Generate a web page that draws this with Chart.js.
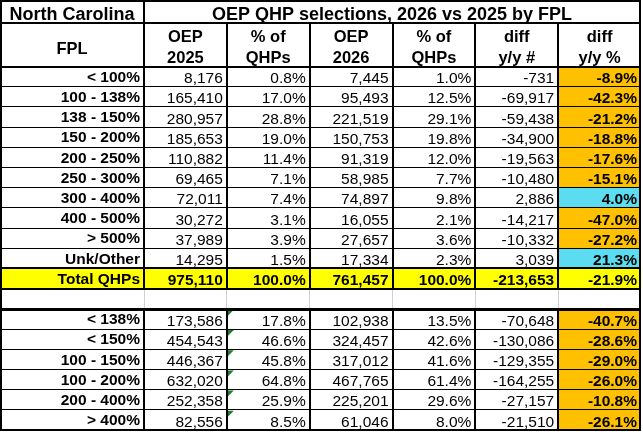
<!DOCTYPE html>
<html>
<head>
<meta charset="utf-8">
<script src="https://cdn.jsdelivr.net/npm/chart.js@4.4.1/dist/chart.umd.min.js"></script>
<style>
html,body{margin:0;padding:0;background:#fff;overflow:hidden}
#wrap{width:643px;height:432px;position:relative}
</style>
</head>
<body>
<div id="wrap"><canvas id="c"></canvas></div>
<script>
// ---------- data ----------
const stateName = 'North Carolina';
const tableTitle = 'OEP QHP selections, 2026 vs 2025 by FPL';
const fplHeader = 'FPL';
const columnHeaders = [['OEP','2025'],['% of','QHPs'],['OEP','2026'],['% of','QHPs'],['diff','y/y #'],['diff','y/y %']];
const fplLabels = ['< 100%','100 - 138%','138 - 150%','150 - 200%','200 - 250%','250 - 300%','300 - 400%','400 - 500%','> 500%','Unk/Other','Total QHPs','',
  '< 138%','< 150%','100 - 150%','100 - 200%','200 - 400%','> 400%'];
const oep2025 = [8176,165410,280957,185653,110882,69465,72011,30272,37989,14295,975110,null,173586,454543,446367,632020,252358,82556];
const pct2025 = [0.8,17.0,28.8,19.0,11.4,7.1,7.4,3.1,3.9,1.5,100.0,null,17.8,46.6,45.8,64.8,25.9,8.5];
const oep2026 = [7445,95493,221519,150753,91319,58985,74897,16055,27657,17334,761457,null,102938,324457,317012,467765,225201,61046];
const pct2026 = [1.0,12.5,29.1,19.8,12.0,7.7,9.8,2.1,3.6,2.3,100.0,null,13.5,42.6,41.6,61.4,29.6,8.0];
const diffNum = [-731,-69917,-59438,-34900,-19563,-10480,2886,-14217,-10332,3039,-213653,null,-70648,-130086,-129355,-164255,-27157,-21510];
const diffPct = [-8.9,-42.3,-21.2,-18.8,-17.6,-15.1,4.0,-47.0,-27.2,21.3,-21.9,null,-40.7,-28.6,-29.0,-26.0,-10.8,-26.1];
const totalRowIndex = 10;
const blankRowIndex = 11;

// ---------- layout / style ----------
const FAMILY = '"Liberation Sans", Arial, Helvetica, sans-serif';
const TITLE_H = 22.5, HEADER_H = 44, FPL_W = 144, RIGHT_PAD = 2, BOTTOM_PAD = 2;
const BODY_SIZE = 15.5;
const ORANGE = '#FFC000', CYAN = '#5CDCF0', YELLOW = '#FFFF00', FLAG_GREEN = '#1E7B32';

const valueColumns = [oep2025, pct2025, oep2026, pct2026, diffNum, diffPct];
const fmtNum = v => v.toLocaleString('en-US');
const fmtPct = v => v.toFixed(1) + '%';
const formatters = [fmtNum, fmtPct, fmtNum, fmtPct, fmtNum, fmtPct];
const nCols = valueColumns.length;
const colUnitPx = (643 - RIGHT_PAD - FPL_W) / nCols;
const fplUnits = FPL_W / colUnitPx;

const totalFill = fplLabels.map((_, i) => i === totalRowIndex ? [-fplUnits, nCols] : null);
const diffFill = diffPct.map((v, i) => (v === null || i === totalRowIndex) ? null : [nCols - 1, nCols]);
const diffColors = diffPct.map(v => v !== null && v < 0 ? ORANGE : CYAN);

Chart.defaults.color = '#000';
Chart.defaults.font.family = FAMILY;

const tablePlugin = {
  id: 'tableGrid',
  afterDatasetsDraw(chart) {
    const {ctx, chartArea: ca} = chart;
    const x = chart.scales.x, y = chart.scales.y;
    const half = (y.getPixelForValue(1) - y.getPixelForValue(0)) / 2;
    const top = i => y.getPixelForValue(i) - half;
    const bot = i => y.getPixelForValue(i) + half;
    const cx = c => x.getPixelForValue(c);
    const nRows = fplLabels.length;
    const tableBottom = bot(nRows - 1);
    const rightEdge = ca.right - 1;

    const crisp = (v, w) => (w % 2 === 1) ? Math.round(v - 0.5) + 0.5 : Math.round(v);
    function hLine(x0, x1, yy, w, col) {
      ctx.beginPath(); ctx.strokeStyle = col || '#000'; ctx.lineWidth = w;
      const p = crisp(yy, w); ctx.moveTo(x0, p); ctx.lineTo(x1, p); ctx.stroke();
    }
    function vLine(xx, y0, y1, w, col) {
      ctx.beginPath(); ctx.strokeStyle = col || '#000'; ctx.lineWidth = w;
      const p = crisp(xx, w); ctx.moveTo(p, y0); ctx.lineTo(p, y1); ctx.stroke();
    }
    ctx.save();
    // green error flags (bottom section, % of QHPs 2025 column)
    ctx.fillStyle = FLAG_GREEN;
    for (let r = blankRowIndex + 1; r < nRows; r++) {
      const x0 = cx(1) + 1, y0 = top(r) + 1;
      ctx.beginPath(); ctx.moveTo(x0, y0); ctx.lineTo(x0 + 6, y0); ctx.lineTo(x0, y0 + 6); ctx.closePath(); ctx.fill();
    }
    // blank row light grid
    for (let c = 0; c < nCols; c++) vLine(cx(c), top(blankRowIndex), bot(blankRowIndex), 1, '#D0D0D0');
    // horizontal row lines
    for (let i = 0; i < nRows - 1; i++) {
      if (i === blankRowIndex - 1 || i === blankRowIndex) continue;
      hLine(0, rightEdge, bot(i), 1);
    }
    hLine(0, rightEdge, top(totalRowIndex), 2);
    hLine(0, rightEdge, bot(totalRowIndex), 2);
    hLine(0, rightEdge, bot(blankRowIndex) + 0.5, 3);
    // header lines
    hLine(0, rightEdge + 1, TITLE_H, 2);
    hLine(0, rightEdge + 1, ca.top, 2);
    // vertical column lines
    vLine(cx(0), 0, top(blankRowIndex), 2);
    vLine(cx(0), bot(blankRowIndex), tableBottom, 2);
    for (let c = 1; c < nCols; c++) {
      vLine(cx(c), TITLE_H, top(blankRowIndex), 2);
      vLine(cx(c), bot(blankRowIndex), tableBottom, 2);
    }
    // outer border
    vLine(1, 0, tableBottom + 1, 2);
    vLine(rightEdge, 0, tableBottom + 1, 2);
    hLine(0, rightEdge + 1, 1, 2);
    hLine(0, rightEdge + 1, tableBottom, 2);

    // cell values
    ctx.fillStyle = '#000';
    ctx.textAlign = 'right';
    ctx.textBaseline = 'alphabetic';
    for (let r = 0; r < nRows; r++) {
      for (let c = 0; c < nCols; c++) {
        const v = valueColumns[c][r];
        if (v === null || v === undefined) continue;
        const bold = r === totalRowIndex || c === nCols - 1;
        ctx.font = (bold ? 'bold ' : '') + BODY_SIZE + 'px ' + FAMILY;
        ctx.fillText(formatters[c](v), cx(c + 1) - 4, bot(r) - 3.5);
      }
    }
    // titles
    ctx.textAlign = 'center';
    ctx.font = 'bold 18px ' + FAMILY;
    ctx.fillText(stateName, ca.left / 2, 20);
    ctx.fillText(tableTitle, (ca.left + rightEdge) / 2, 20);
    ctx.font = 'bold 16.5px ' + FAMILY;
    ctx.fillText(fplHeader, ca.left / 2, 54);
    ctx.restore();
  }
};

function noPad(s) { s.paddingTop = 0; s.paddingBottom = 0; s.paddingLeft = 0; s.paddingRight = 0; }

new Chart(document.getElementById('c'), {
  type: 'bar',
  data: {
    labels: fplLabels,
    datasets: [
      { label: 'Total row', data: totalFill, backgroundColor: YELLOW, borderWidth: 0, clip: false,
        barPercentage: 1, categoryPercentage: 1, grouped: false },
      { label: 'diff y/y %', data: diffFill, backgroundColor: diffColors, borderWidth: 0,
        barPercentage: 1, categoryPercentage: 1, grouped: false }
    ]
  },
  options: {
    indexAxis: 'y',
    responsive: true,
    maintainAspectRatio: false,
    animation: false,
    events: [],
    layout: { padding: { top: TITLE_H, left: 0, right: RIGHT_PAD, bottom: BOTTOM_PAD } },
    plugins: { legend: { display: false }, tooltip: { enabled: false }, title: { display: false } },
    scales: {
      x: { type: 'linear', min: 0, max: nCols, display: false },
      x2: {
        type: 'category', labels: columnHeaders, position: 'top', offset: true,
        grid: { display: false, drawTicks: false }, border: { display: false },
        ticks: { autoSkip: false, maxRotation: 0, minRotation: 0, padding: -2, color: '#000',
          font: { size: 16.5, weight: 'bold', lineHeight: 21 / 16.5 } },
        afterFit(s) { s.height = HEADER_H; noPad(s); }
      },
      y: {
        type: 'category', position: 'left', offset: true,
        grid: { display: false, drawTicks: false }, border: { display: false },
        ticks: { autoSkip: false, padding: 4, color: '#000', z: 1, labelOffset: 1,
          font: { size: BODY_SIZE, weight: 'bold' } },
        afterFit(s) { s.width = FPL_W; noPad(s); }
      }
    }
  },
  plugins: [tablePlugin]
});
</script>
</body>
</html>
